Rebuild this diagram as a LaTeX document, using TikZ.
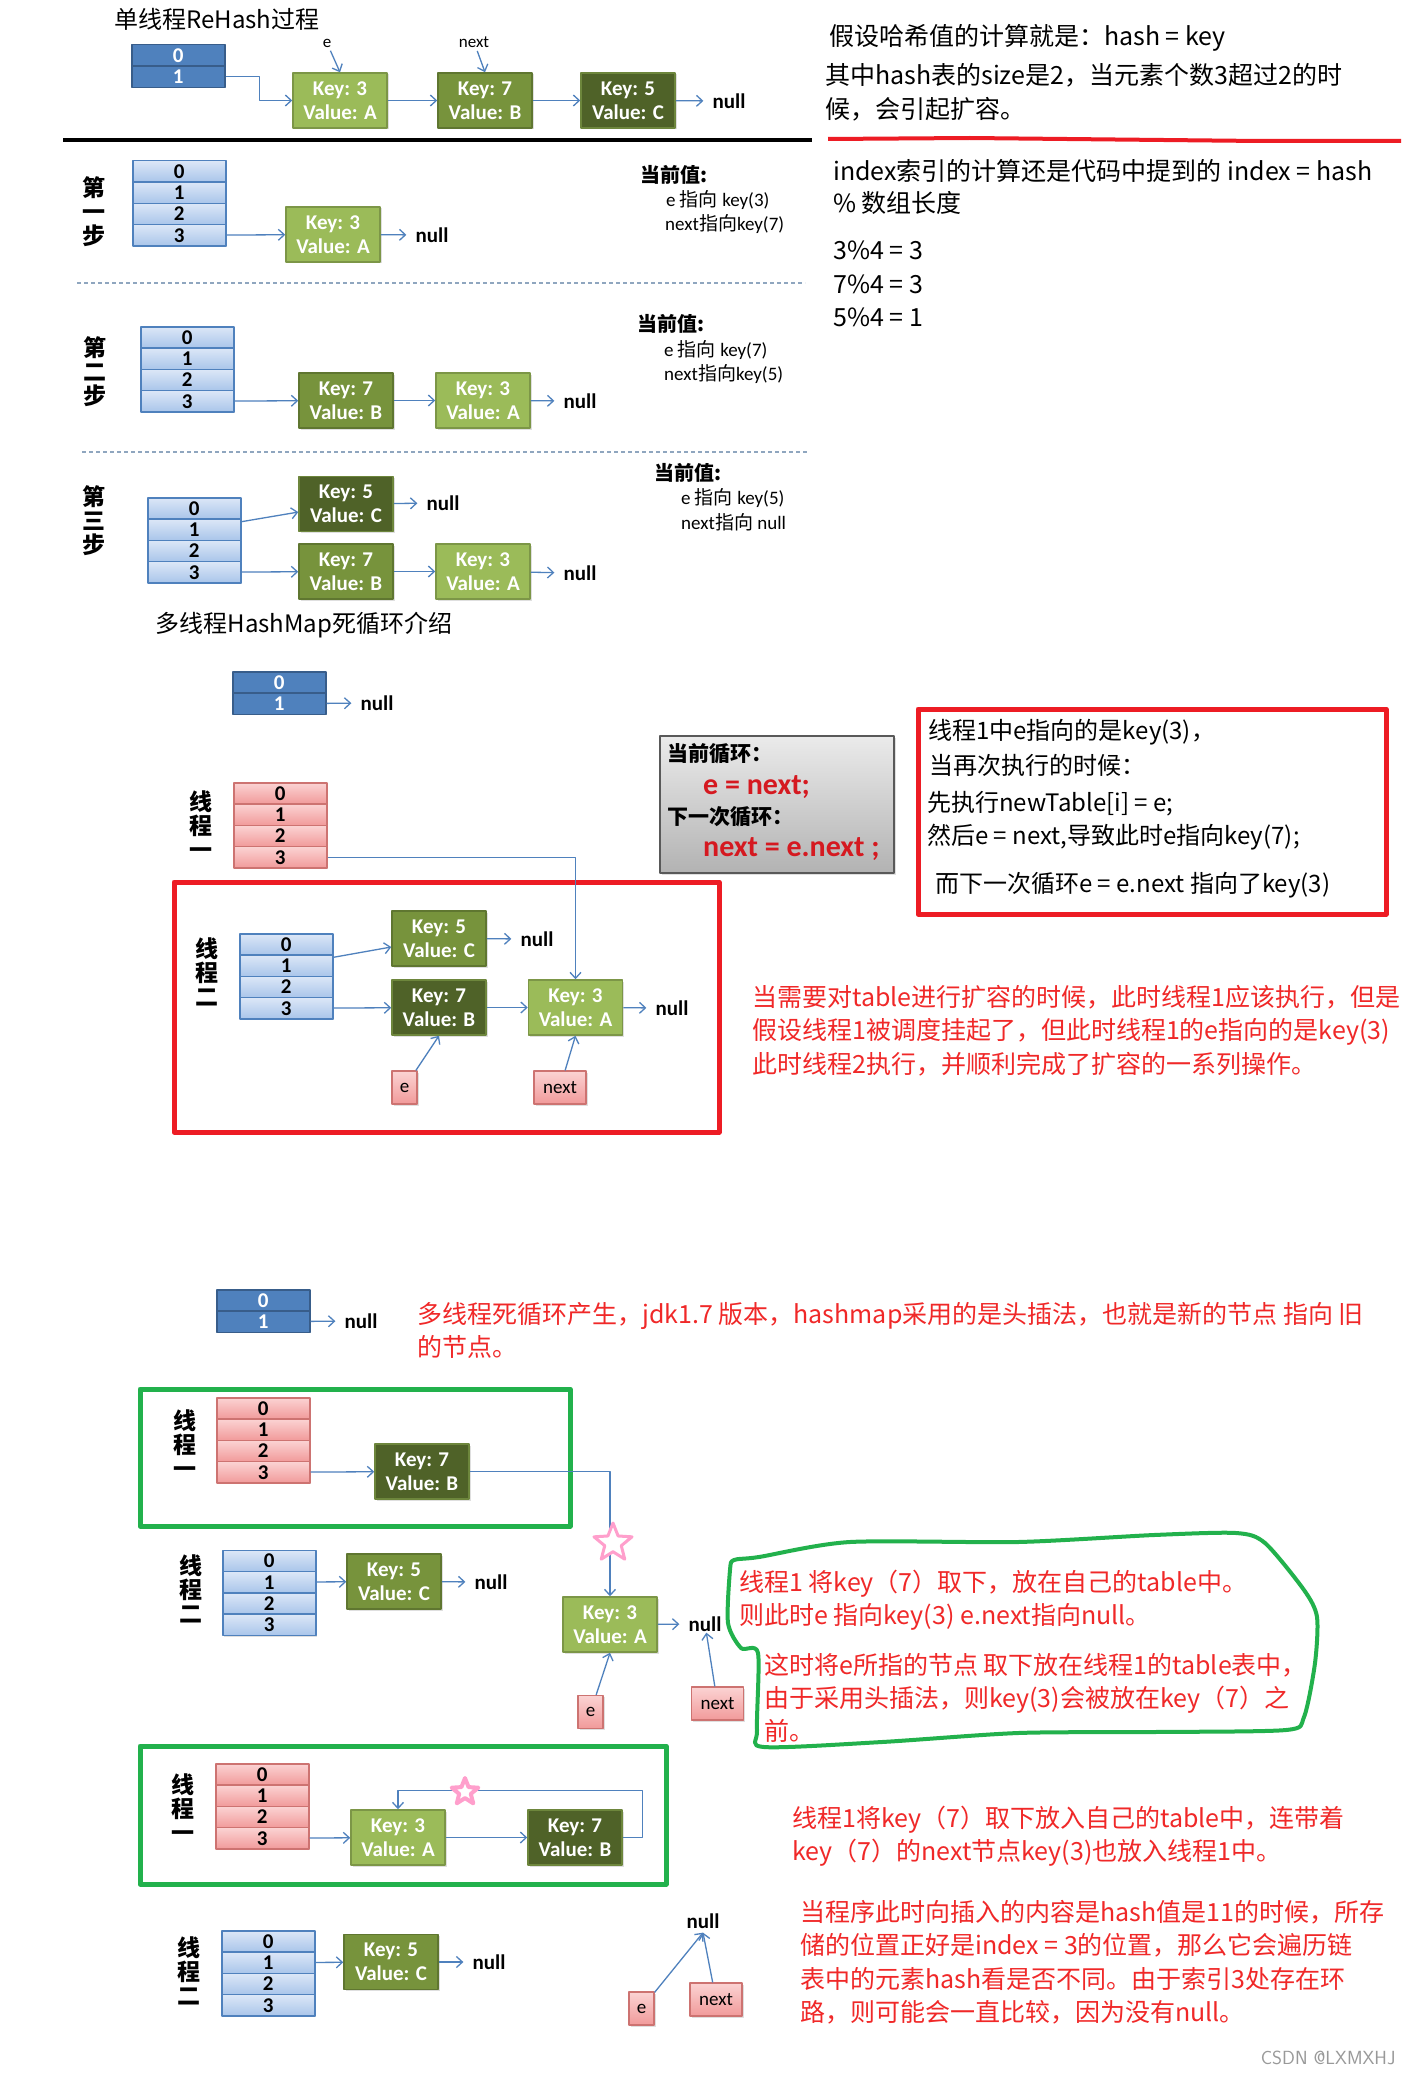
\documentclass[tikz,border=0pt]{standalone}
\usepackage{fontspec}
\setmainfont{Carlito}
\newfontfamily\cjk{Noto Sans CJK SC}
\usetikzlibrary{arrows.meta,shapes.geometric,shadows}

\definecolor{tblue}{HTML}{4F81BD}
\definecolor{dblue}{HTML}{385D8A}
\definecolor{bluetop}{HTML}{DCE7F7}
\definecolor{bluebot}{HTML}{A9C5EA}
\definecolor{pinktop}{HTML}{FBD3D3}
\definecolor{pinkbot}{HTML}{F19A9A}
\definecolor{pinkedge}{HTML}{C0504D}
\definecolor{glight}{HTML}{9BBB59}
\definecolor{gmid}{HTML}{77933C}
\definecolor{gdark}{HTML}{4F6228}
\definecolor{hred}{HTML}{ED1C24}
\definecolor{txtred}{HTML}{F02828}
\definecolor{hgreen}{HTML}{22B14C}
\definecolor{starpink}{HTML}{FF9FCC}
\definecolor{dashgray}{HTML}{8FA6BF}

% table of buckets: name, x, top y, rows, style
\newcommand{\htab}[5]{%
  \foreach \r in {#4}
    \node[#5, anchor=north west] (#1\r) at (#2,{#3+21.3*\r}) {\r};
}

\begin{document}
\begin{tikzpicture}[x=1pt, y=-1pt, line join=round, >={Straight Barb[length=6pt,width=11pt]},
  shd/.style={drop shadow={opacity=.25, shadow xshift=1.5pt, shadow yshift=-1.5pt}},
  cell/.style={minimum width=93, minimum height=21.3, inner sep=0, line width=1.5, font=\fontsize{21}{22}\selectfont\bfseries},
  darkcell/.style={cell, draw=dblue, fill=tblue, text=white},
  bluecell/.style={cell, shd, draw=tblue, top color=bluetop, bottom color=bluebot},
  pinkcell/.style={cell, shd, draw=pinkedge!80, top color=pinktop, bottom color=pinkbot},
  kv/.style={shd, line width=1.5, minimum width=94, minimum height=55, inner sep=0, align=center, text=white, font=\fontsize{21}{24}\selectfont\bfseries},
  kl/.style={kv, fill=glight, draw=glight!80!black},
  km/.style={kv, fill=gmid, draw=gmid!80!black},
  kd/.style={kv, fill=gdark, draw=gdark!60!glight},
  link/.style={draw=tblue, line width=1.3, ->},
  nul/.style={inner xsep=9, inner ysep=1, font=\fontsize{21}{22}\selectfont\bfseries},
  ptr/.style={shd, draw=pinkedge!80, top color=pinktop, bottom color=pinkbot, line width=1.2, minimum width=25, minimum height=33, inner sep=0, font=\fontsize{19}{20}\selectfont},
  vlab/.style={align=center, inner sep=0, font=\cjk\bfseries\fontsize{23}{24}\selectfont},
  cur/.style={anchor=west, inner sep=0, font=\cjk\bfseries\fontsize{20}{22}\selectfont},
  info/.style={anchor=west, inner sep=0, font=\fontsize{19}{22}\selectfont},
  note/.style={align=left, anchor=north west, inner sep=0, font=\cjk\fontsize{25}{33.3}\selectfont},
  line1/.style={anchor=west, inner sep=0, font=\cjk\fontsize{24}{28}\selectfont},
  loopt/.style={anchor=west, inner sep=0, font=\cjk\bfseries\fontsize{21}{24}\selectfont},
  loopr/.style={anchor=west, inner sep=0, text=hred!90!black, font=\fontsize{30}{32}\selectfont\bfseries}]
\fill[white] (0,0) rectangle (1412,2076);
\useasboundingbox (0,0) rectangle (1412,2076);

% single thread rehash
\node[font=\cjk\fontsize{24}{28}\selectfont] (title1) at (217,19) {单线程ReHash过程};
\htab{ta}{131}{44}{0,1}{darkcell}
\node[kl] (a3) at (340,100.5) {Key: 3\\Value: A};
\node[km] (a7) at (485,100.5) {Key: 7\\Value: B};
\node[kd] (a5) at (628,100.5) {Key: 5\\Value: C};
\node[nul] (an) at (729,101) {null};
\node[font=\fontsize{17}{20}\selectfont] (ae) at (327,43) {e};
\node[font=\fontsize{17}{20}\selectfont] (anx) at (474,42) {next};
\draw[link] (ta1.east) -- ++(34,0) |- (a3);
\draw[link] (a3) -- (a7);
\draw[link] (a7) -- (a5);
\draw[link] (a5) -- (an);
\draw[link] (ae) -- (a3.north);
\draw[link] (anx) -- (a7.north);
\draw[line width=3.5] (63,140) -- (812,140);
\draw[hred, line width=4] (828,139) -- (970,138) -- (1260,141) -- (1401,141);

\node[note] (h1) at (829,24) {假设哈希值的计算就是：hash = key};
\node[note, font=\cjk\fontsize{25}{34}\selectfont] (h2) at (825,63) {其中hash表的size是2，当元素个数3超过2的时\\候，会引起扩容。};
\node[note, font=\cjk\fontsize{25}{32}\selectfont] (h3) at (833,159) {index索引的计算还是代码中提到的 index = hash\\\% 数组长度};
\node[note] (h4) at (833,241) {3\%4 = 3\\7\%4 = 3\\5\%4 = 1};

% step 1
\node[vlab] (l1) at (94,212) {第\\一\\步};
\htab{tb}{132}{160}{0,1,2,3}{bluecell}
\node[kl] (b3) at (333,234.5) {Key: 3\\Value: A};
\node[nul] (bn) at (432,235) {null};
\draw[link] (tb3) -- (b3);
\draw[link] (b3) -- (bn);
\node[cur] (v1) at (640,175) {当前值:};
\node[info] (v1e) at (666,200) {e {\cjk 指向} key(3)};
\node[info] (v1n) at (665,224) {next{\cjk 指向}key(7)};
\draw[dashgray, line width=1.3, dash pattern=on 4pt off 3pt] (77,283) -- (805,283);

% step 2
\node[vlab] (l2) at (95,372) {第\\二\\步};
\htab{tc}{140}{326}{0,1,2,3}{bluecell}
\node[km] (c7) at (346,400.5) {Key: 7\\Value: B};
\node[kl] (c3) at (483,400.5) {Key: 3\\Value: A};
\node[nul] (cn) at (580,401) {null};
\draw[link] (tc3) -- (c7);
\draw[link] (c7) -- (c3);
\draw[link] (c3) -- (cn);
\node[cur] (v2) at (637,324) {当前值:};
\node[info] (v2e) at (664,350) {e {\cjk 指向} key(7)};
\node[info] (v2n) at (664,374) {next{\cjk 指向}key(5)};
\draw[dashgray, line width=1.3, dash pattern=on 4pt off 3pt] (82,452) -- (808,452);

% step 3
\node[vlab] (l3) at (94,521) {第\\三\\步};
\htab{td}{147}{497}{0,1,2,3}{bluecell}
\node[kd] (d5) at (346,504) {Key: 5\\Value: C};
\node[km] (d7) at (346,571.5) {Key: 7\\Value: B};
\node[kl] (d3) at (483,571.5) {Key: 3\\Value: A};
\node[nul] (dn1) at (443,503) {null};
\node[nul] (dn2) at (580,573) {null};
\draw[link] (td1) -- (d5);
\draw[link] (d5) -- (dn1);
\draw[link] (td3) -- (d7);
\draw[link] (d7) -- (d3);
\draw[link] (d3) -- (dn2);
\node[cur] (v3) at (654,473) {当前值:};
\node[info] (v3e) at (681,498) {e {\cjk 指向} key(5)};
\node[info] (v3n) at (681,522) {next{\cjk 指向} null};
\node[font=\cjk\fontsize{24}{28}\selectfont] (title2) at (304,625) {多线程HashMap死循环介绍};

% two threads, thread 2 done
\htab{ma}{232}{671}{0,1}{darkcell}
\node[nul] (man) at (377,703) {null};
\draw[link] (ma1) -- (man);
\node[vlab] (l4) at (201,825) {线\\程\\一};
\htab{mb}{233}{782}{0,1,2,3}{pinkcell}
\draw[hred, line width=5] (174,882) rectangle (719,1132);
\node[vlab] (l5) at (207,972) {线\\程\\二};
\htab{mc}{239}{933}{0,1,2,3}{bluecell}
\node[km] (m5) at (439,938.5) {Key: 5\\Value: C};
\node[kd] (m7) at (439,1007.5) {Key: 7\\Value: B};
\node[kl] (m3) at (575.5,1007.5) {Key: 3\\Value: A};
\node[nul] (mn1) at (537,939) {null};
\node[nul] (mn2) at (672,1008) {null};
\node[ptr] (me) at (404.5,1087.5) {e};
\node[ptr, minimum width=52] (mx) at (560,1087.5) {next};
\draw[link] (mb3) -| (m3);
\draw[link] (mc1) -- (m5);
\draw[link] (m5) -- (mn1);
\draw[link] (mc3) -- (m7);
\draw[link] (m7) -- (m3);
\draw[link] (m3) -- (mn2);
\draw[link] (me) -- (m7.south);
\draw[link] (mx) -- (m3.south);

\node[shd, draw=black!65, line width=2, top color=black!8, bottom color=black!30, minimum width=234, minimum height=137] (loop) at (777,804.5) {};
\node[loopt] (lp1) at (667,754) {当前循环：};
\node[loopr] (lp2) at (703,787) {e = next;};
\node[loopt] (lp3) at (667,817) {下一次循环：};
\node[loopr] (lp4) at (703,849) {next = e.next ;};

\draw[hred, line width=5] (918,709) rectangle (1386,914);
\node[line1] (k1) at (928,732) {线程1中e指向的是key(3)，};
\node[line1] (k2) at (929,765) {当再次执行的时候：};
\node[line1] (k3) at (927,804) {先执行newTable[i] = e;};
\node[line1] (k4) at (927,837) {然后e = next,导致此时e指向key(7);};
\node[line1] (k5) at (935,885) {而下一次循环e = e.next 指向了key(3)};
\node[note, text=txtred] (r1) at (752,985) {当需要对table进行扩容的时候，此时线程1应该执行，但是\\假设线程1被调度挂起了，但此时线程1的e指向的是key(3)\\此时线程2执行，并顺利完成了扩容的一系列操作。};

% dead loop
\htab{na}{216}{1289}{0,1}{darkcell}
\node[nul] (nan) at (361,1321) {null};
\draw[link] (na1) -- (nan);
\node[note, text=txtred] (r2) at (417,1302) {多线程死循环产生，jdk1.7 版本，hashmap采用的是头插法，也就是新的节点 指向 旧\\的节点。};
\draw[hgreen, line width=5] (140,1389) rectangle (570,1526);
\node[vlab] (l6) at (185,1444) {线\\程\\一};
\htab{nb}{216}{1397}{0,1,2,3}{pinkcell}
\node[kd] (n7) at (422,1471.5) {Key: 7\\Value: B};
\node[vlab] (l7) at (191,1589) {线\\程\\二};
\htab{nc}{222}{1549.5}{0,1,2,3}{bluecell}
\node[km] (n5) at (394,1581.5) {Key: 5\\Value: C};
\node[kl] (n3) at (610,1624.5) {Key: 3\\Value: A};
\node[nul] (nn1) at (491,1582) {null};
\node[nul] (nn2) at (705,1624) {null};
\node[ptr] (ne) at (590.5,1712) {e};
\node[ptr, minimum width=52] (nx) at (717.5,1703.5) {next};
\draw[link] (nb3) -- (n7);
\draw[link] (n7) -| (n3);
\draw[link] (nc1) -- (n5);
\draw[link] (n5) -- (nn1);
\draw[link] (n3) -- (nn2);
\draw[link] (ne) -- (n3.south);
\draw[link] (nx) -- (nn2);
\node[star, star points=5, star point ratio=2.3, draw=starpink, fill=white, line width=3, minimum size=40, inner sep=0] (star1) at (613,1543) {};

\draw[hgreen, line width=4] plot[smooth cycle, tension=0.45] coordinates {(734,1560) (759,1557) (850,1542) (1018,1542) (1154,1535) (1236,1533) (1265,1543) (1304,1590) (1317,1617) (1315,1663) (1304,1717) (1286,1730) (1154,1732) (1018,1733) (882,1742) (764,1747) (757,1730) (758,1653) (741,1648) (728,1623) (730,1570)};
\node[note, text=txtred] (g1) at (739,1570) {线程1 将key（7）取下，放在自己的table中。\\则此时e 指向key(3) e.next指向null。};
\node[note, text=txtred] (g2) at (764,1653) {这时将e所指的节点 取下放在线程1的table表中，\\由于采用头插法，则key(3)会被放在key（7）之\\前。};

\draw[hgreen, line width=5] (140,1746) rectangle (666,1884);
\node[vlab] (l8) at (183,1808) {线\\程\\一};
\htab{pa}{215}{1763}{0,1,2,3}{pinkcell}
\node[kl] (p3) at (398,1837.5) {Key: 3\\Value: A};
\node[kd] (p7) at (575,1837.5) {Key: 7\\Value: B};
\draw[link] (pa3) -- (p3);
\draw[link] (p3) -- (p7);
\draw[link] (p7.east) -- ++(20,0) -- ++(0,-47) -| (p3.north);
\node[star, star points=5, star point ratio=2.3, draw=starpink, fill=white, line width=4, minimum size=28, inner sep=0] (star2) at (465,1792) {};
\node[vlab] (l9) at (189,1971) {线\\程\\二};
\htab{pb}{221}{1930}{0,1,2,3}{bluecell}
\node[km] (p5) at (391,1962) {Key: 5\\Value: C};
\node[nul] (pn1) at (489,1962) {null};
\node[nul, inner ysep=4] (pn2) at (703,1921) {null};
\node[ptr] (pe) at (641.5,2008.5) {e};
\node[ptr, minimum width=52] (px) at (716,1999.5) {next};
\draw[link] (pb1) -- (p5);
\draw[link] (p5) -- (pn1);
\draw[link] (pe) -- (pn2.south);
\draw[link] (px) -- (pn2.south);

\node[note, text=txtred] (q1) at (792,1806) {线程1将key（7）取下放入自己的table中，连带着\\key（7）的next节点key(3)也放入线程1中。};
\node[note, text=txtred] (q2) at (800,1900) {当程序此时向插入的内容是hash值是11的时候，所存\\储的位置正好是index = 3的位置，那么它会遍历链\\表中的元素hash看是否不同。由于索引3处存在环\\路，则可能会一直比较，因为没有null。};
\node[anchor=east, text=black!40, font=\fontsize{19}{22}\selectfont\sffamily] (mark) at (1399,2058) {CSDN @LXMXHJ};
\end{tikzpicture}
\end{document}
